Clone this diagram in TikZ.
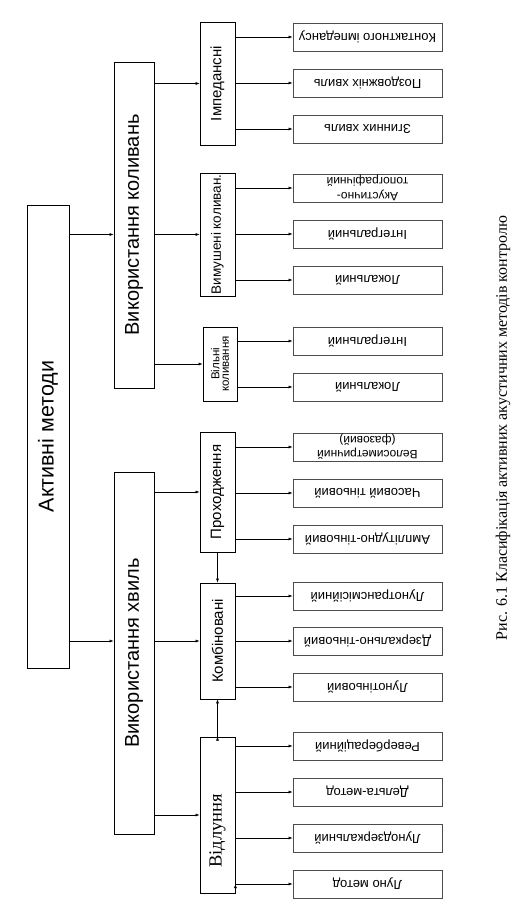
\documentclass[tikz,border=0pt]{standalone}
\usepackage{fontspec}
\setmainfont{Liberation Sans}
\newfontfamily\timesfont{Liberation Serif}
\usetikzlibrary{arrows.meta}
\newcommand{\vtext}[1]{\rotatebox{90}{#1}}
\newcommand{\fliptext}[1]{\rotatebox{180}{\shortstack{#1}}}
\tikzset{
  box/.style={draw,inner sep=0pt,line width=0.8pt},
  mid/.style={box,minimum width=35,font=\fontsize{15}{17}\selectfont},
  leaf/.style={box,draw=black!70,minimum width=149,minimum height=28,font=\fontsize{13}{14}\selectfont},
  conn/.style={line width=0.6pt,->},
}
\begin{document}
\begin{tikzpicture}[x=1pt,y=-1pt,>={Latex[length=4pt,width=3pt]}]
        \useasboundingbox (0,0) rectangle (531,909);
        % upper levels
        \draw (48,436.5) node[box,minimum width=42,minimum height=463,font=\fontsize{21.5}{24}\selectfont](akt){\vtext{Активні методи}};
        \draw (134,225) node[box,minimum width=40,minimum height=326,font=\fontsize{20}{24}\selectfont](kol){\vtext{Використання коливань}};
        \draw (134,653) node[box,minimum width=40,minimum height=362,font=\fontsize{20}{24}\selectfont](hv){\vtext{Використання хвиль}};
        % middle level
        \draw (217.5,83.5) node[mid,minimum height=123](imp){\vtext{Імпедансні}};
        \draw (217.5,234.5) node[mid,minimum height=123,font=\fontsize{13.5}{15}\selectfont](vym){\vtext{Вимушені коливан.}};
        \draw (220,364) node[mid,minimum width=34,minimum height=74,font=\fontsize{11.5}{13}\selectfont](vil){\vtext{\shortstack{Вільні\\коливання}}};
        \draw (217.5,492) node[mid,minimum height=120](prh){\vtext{Проходження}};
        \draw (217.5,641) node[mid,minimum height=116](kmb){\vtext{Комбіновані}};
        \draw (217.5,815) node[mid,minimum height=156,font=\timesfont\fontsize{18.5}{20}\selectfont](vdl){\vtext{Відлуння\hspace{32pt}}};
        % methods
        \draw (367.5,37) node[leaf](l1){\fliptext{Контактного імпедансу}};
        \draw (367.5,83) node[leaf](l2){\fliptext{Поздовжніх хвиль}};
        \draw (367.5,129) node[leaf](l3){\fliptext{Згинних хвиль}};
        \draw (367.5,188) node[leaf,font=\fontsize{12}{12}\selectfont](l4){\fliptext{Акустично-\\топографічний}};
        \draw (367.5,234) node[leaf](l5){\fliptext{Інтегральний}};
        \draw (367.5,280) node[leaf](l6){\fliptext{Локальний}};
        \draw (367.5,341) node[leaf](l7){\fliptext{Інтегральний}};
        \draw (367.5,387) node[leaf](l8){\fliptext{Локальний}};
        \draw (367.5,447) node[leaf,font=\fontsize{12}{12}\selectfont](l9){\fliptext{Велосиметричний\\(фазовий)}};
        \draw (367.5,493) node[leaf](l10){\fliptext{Часовий тіньовий}};
        \draw (367.5,539) node[leaf](l11){\fliptext{Амплітудно-тіньовий}};
        \draw (367.5,596) node[leaf](l12){\fliptext{Лунотрансмісійний}};
        \draw (367.5,641) node[leaf](l13){\fliptext{Дзеркально-тіньовий}};
        \draw (367.5,687) node[leaf](l14){\fliptext{Лунотіньовий}};
        \draw (367.5,746) node[leaf](l15){\fliptext{Ревербераційний}};
        \draw (367.5,792) node[leaf](l16){\fliptext{Дельта-метод}};
        \draw (367.5,838) node[leaf](l17){\fliptext{Лунодзеркальний}};
        \draw (367.5,884) node[leaf](l18){\fliptext{Луно метод}};
        % caption
        \draw (503,428) node[font=\timesfont\fontsize{16}{18}\selectfont](cap){\vtext{Рис. 6.1 Класифікація активних акустичних методів контролю}};
        \draw[conn]
          (akt.east |- vym.west) edge (kol.west |- vym.west)
          (akt.east |- kmb.west) edge (hv.west |- kmb.west)
          (kol.east |- imp.west) edge (imp.west)
          (kol.east |- vym.west) edge (vym.west)
          (kol.east |- vil.west) edge (vil.west)
          (hv.east |- prh.west) edge (prh.west)
          (hv.east |- kmb.west) edge (kmb.west)
          (hv.east |- vdl.west) edge (vdl.west)
          (prh.south) edge (kmb.north)
          (vdl.north) edge (kmb.south)
        ;
        \draw[conn]
          (imp.east |- l1.west) edge (l1.west)
          (imp.east |- l2.west) edge (l2.west)
          (imp.east |- l3.west) edge (l3.west)
          (vym.east |- l4.west) edge (l4.west)
          (vym.east |- l5.west) edge (l5.west)
          (vym.east |- l6.west) edge (l6.west)
          (vil.east |- l7.west) edge (l7.west)
          (vil.east |- l8.west) edge (l8.west)
          (prh.east |- l9.west) edge (l9.west)
          (prh.east |- l10.west) edge (l10.west)
          (prh.east |- l11.west) edge (l11.west)
          (kmb.east |- l12.west) edge (l12.west)
          (kmb.east |- l13.west) edge (l13.west)
          (kmb.east |- l14.west) edge (l14.west)
          (vdl.east |- l15.west) edge (l15.west)
          (vdl.east |- l16.west) edge (l16.west)
          (vdl.east |- l17.west) edge (l17.west)
          (vdl.east |- l18.west) edge (l18.west)
        ;
      \end{tikzpicture}
\end{document}
